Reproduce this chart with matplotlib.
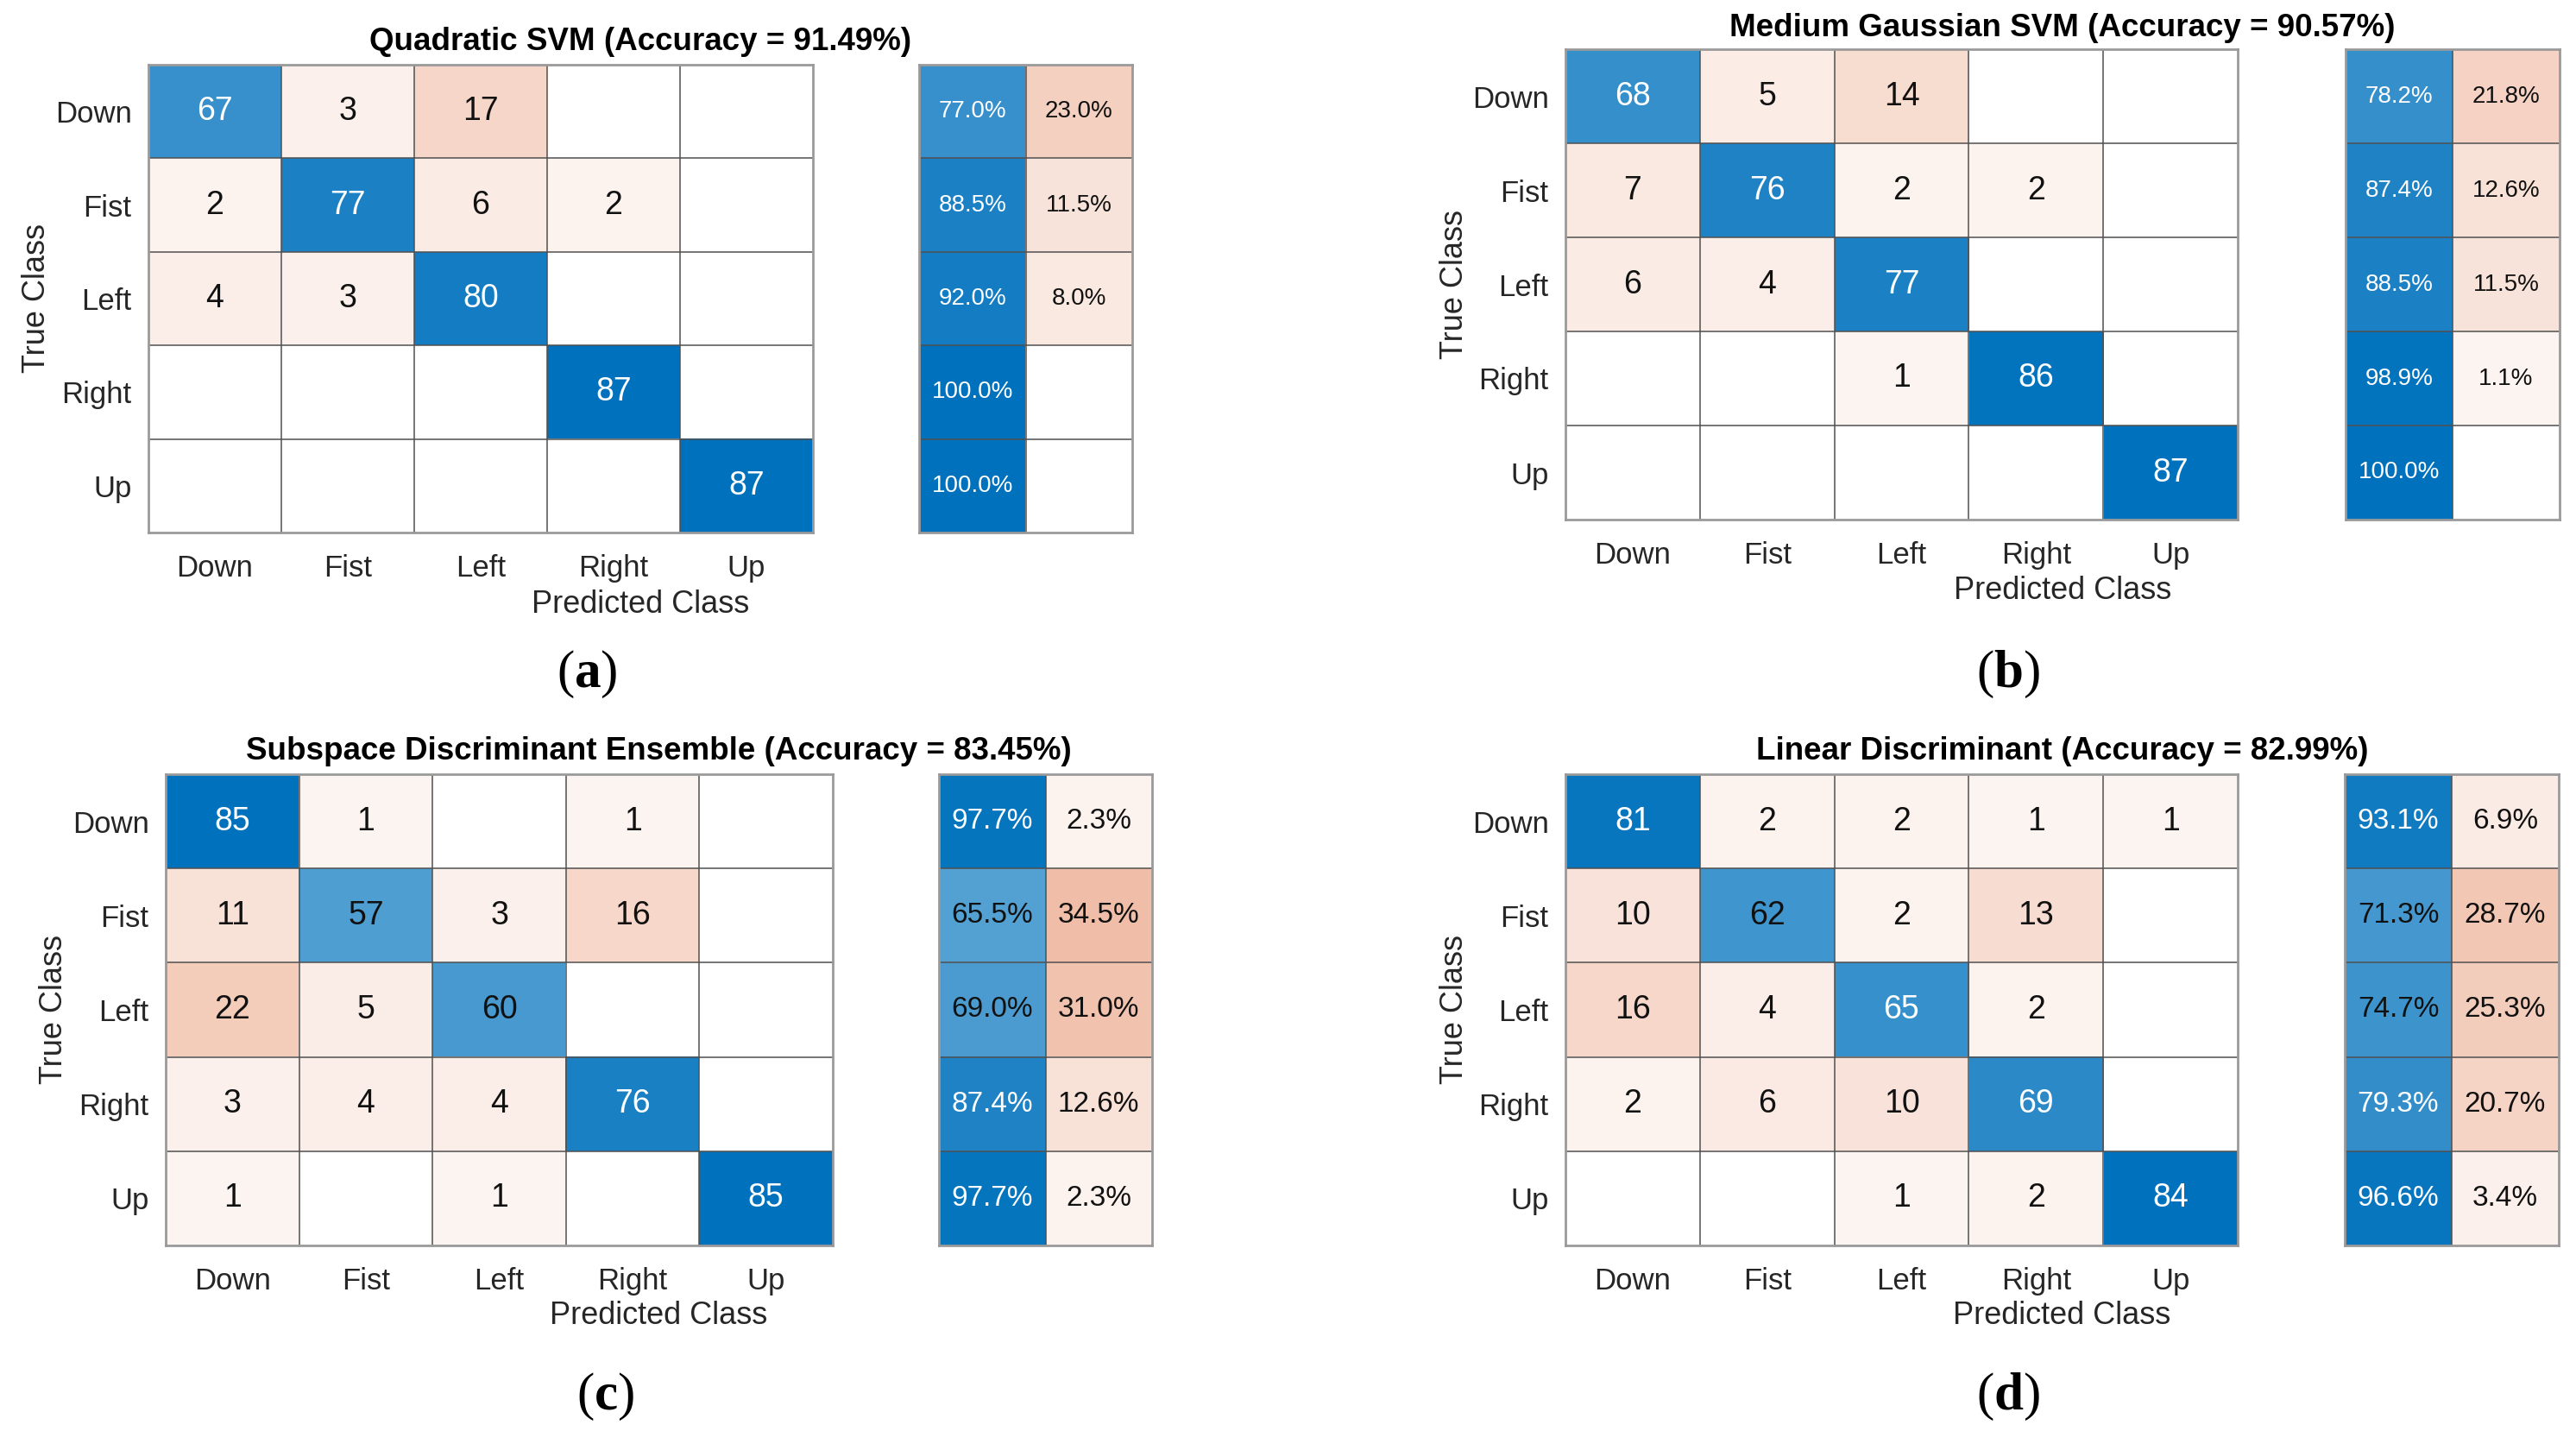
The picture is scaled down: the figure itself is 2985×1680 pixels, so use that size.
import matplotlib
matplotlib.use("Agg")
import matplotlib.pyplot as plt
import numpy as np

plt.rcParams['font.family'] = ['Liberation Sans', 'DejaVu Sans']
plt.rcParams['mathtext.fontset'] = 'custom'
plt.rcParams['mathtext.rm'] = 'Liberation Serif'
plt.rcParams['mathtext.bf'] = 'Liberation Serif:bold'

classes = ["Down", "Fist", "Left", "Right", "Up"]

titles = [
    "Quadratic SVM (Accuracy = 91.49%)",
    "Medium Gaussian SVM (Accuracy = 90.57%)",
    "Subspace Discriminant Ensemble (Accuracy = 83.45%)",
    "Linear Discriminant (Accuracy = 82.99%)",
]
panel_tags = ["a", "b", "c", "d"]

cm_quad_svm = [
    [67, 3, 17, 0, 0],
    [2, 77, 6, 2, 0],
    [4, 3, 80, 0, 0],
    [0, 0, 0, 87, 0],
    [0, 0, 0, 0, 87],
]
cm_gauss_svm = [
    [68, 5, 14, 0, 0],
    [7, 76, 2, 2, 0],
    [6, 4, 77, 0, 0],
    [0, 0, 1, 86, 0],
    [0, 0, 0, 0, 87],
]
cm_subspace = [
    [85, 1, 0, 1, 0],
    [11, 57, 3, 16, 0],
    [22, 5, 60, 0, 0],
    [3, 4, 4, 76, 0],
    [1, 0, 1, 0, 85],
]
cm_linear = [
    [81, 2, 2, 1, 1],
    [10, 62, 2, 13, 0],
    [16, 4, 65, 2, 0],
    [2, 6, 10, 69, 0],
    [0, 0, 1, 2, 84],
]

W, H = 2985, 1680
BLUE = np.array([0, 114, 189]) / 255.0
ORANGE = np.array([217, 83, 25]) / 255.0


def _tint(base, t):
    if t <= 0:
        return np.ones(3)
    t = 0.05 + 0.95 * t
    return 1.0 - (1.0 - base) * t


def _ax(fig, x0, x1, y0, y1):
    return fig.add_axes([x0 / W, 1 - y1 / H, (x1 - x0) / W, (y1 - y0) / H])


def _grid(ax, nr, nc):
    for k in range(1, nc):
        ax.axvline(k - 0.5, color="#505050", lw=1.1)
    for k in range(1, nr):
        ax.axhline(k - 0.5, color="#505050", lw=1.1)
    for s in ax.spines.values():
        s.set_color("#9a9a9a")
        s.set_linewidth(2.0)


def draw_panel(fig, cm, title, tag, geo, pct_size):
    mx0, mx1, my0, my1, sx0, sx1, ty, py, tcx, lbly = geo
    cm = np.array(cm, dtype=float)
    n = len(classes)
    vmax = cm.max()

    ax = _ax(fig, mx0, mx1, my0, my1)
    rgb = np.zeros((n, n, 3))
    for i in range(n):
        for j in range(n):
            base = BLUE if i == j else ORANGE
            rgb[i, j] = _tint(base, cm[i, j] / vmax)
    ax.imshow(rgb, aspect="auto", interpolation="nearest")
    for i in range(n):
        for j in range(n):
            v = cm[i, j]
            if v > 0:
                col = "white" if v / vmax > 0.75 else "#111111"
                ax.text(j, i, f"{int(v)}", ha="center", va="center",
                        fontsize=27, color=col)
    ax.set_xticks(range(n), classes, fontsize=25, color="#262626")
    ax.set_yticks(range(n), classes, fontsize=25, color="#262626")
    ax.tick_params(length=0, pad=14)
    ax.tick_params(axis="x", pad=18)
    _grid(ax, n, n)

    # per-row summary (true positive / false negative rates)
    rows = cm.sum(axis=1)
    tpr = np.diag(cm) / rows
    fnr = 1 - tpr
    sx = _ax(fig, sx0, sx1, my0, my1)
    srgb = np.zeros((n, 2, 3))
    for i in range(n):
        srgb[i, 0] = _tint(BLUE, tpr[i])
        srgb[i, 1] = _tint(ORANGE, fnr[i] if fnr[i] > 1e-9 else 0)
    sx.imshow(srgb, aspect="auto", interpolation="nearest")
    for i in range(n):
        for j, val in enumerate([tpr[i], fnr[i]]):
            if val > 1e-9:
                col = "white" if val > 0.75 else "#111111"
                sx.text(j, i, f"{val * 100:.1f}%", ha="center", va="center",
                        fontsize=pct_size, color=col)
    sx.set_xticks([])
    sx.set_yticks([])
    _grid(sx, n, 2)

    cx = (mx0 + sx1) / 2
    fig.text(cx / W, 1 - ty / H, title, ha="center", va="center",
             fontsize=26.5, fontweight="bold", color="black")
    fig.text(cx / W, 1 - py / H, "Predicted Class", ha="center", va="center",
             fontsize=26, color="#262626")
    fig.text(tcx / W, 1 - (my0 + my1) / 2 / H, "True Class", ha="center",
             va="center", rotation=90, fontsize=26, color="#262626")
    lx = (mx0 + mx1) / 2 + 123
    fig.text(lx / W, 1 - lbly / H, "($\\mathbf{" + tag + "}$)", ha="center",
             va="center", fontsize=44, family="Liberation Serif")


fig = plt.figure(figsize=(W / 100, H / 100), dpi=100)
fig.patch.set_facecolor("white")

# geometry in pixels: matrix x0,x1,y0,y1, summary x0,x1, title y, xlabel y, ylabel x, tag y
geos = [
    (172, 942, 75, 617, 1065, 1312, 48, 700, 42, 781),
    (1814, 2593, 57, 602, 2718, 2966, 32, 685, 1685, 781),
    (192, 965, 897, 1443, 1088, 1335, 870, 1525, 63, 1618),
    (1814, 2593, 897, 1443, 2717, 2965, 870, 1525, 1685, 1618),
]
mats = [cm_quad_svm, cm_gauss_svm, cm_subspace, cm_linear]
pct_sizes = [20, 20, 24, 24]

for cm, t, tag, g, ps in zip(mats, titles, panel_tags, geos, pct_sizes):
    draw_panel(fig, cm, t, tag, g, ps)

fig.savefig("out.png", dpi=100, facecolor="white")
